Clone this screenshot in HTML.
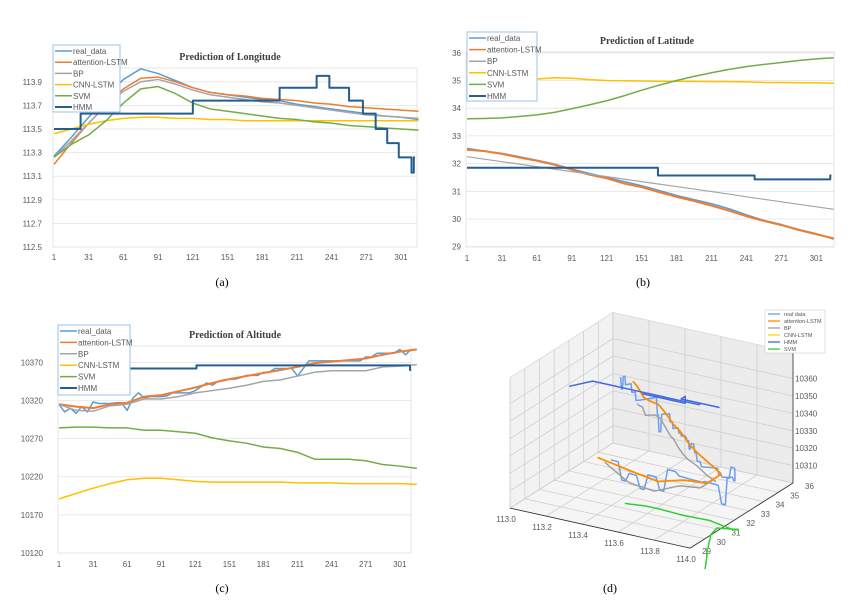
<!DOCTYPE html>
<html><head><meta charset="utf-8">
<style>
html,body{margin:0;padding:0;background:#fff;width:857px;height:607px;overflow:hidden;}
svg{display:block;font-family:"Liberation Sans",sans-serif;}
.tick{font-size:8px;fill:#595959;}
.title{font-family:"Liberation Serif",serif;font-weight:bold;font-size:10px;fill:#404040;}
.leg{font-size:8px;fill:#595959;}
.cap{font-family:"Liberation Serif",serif;font-size:12px;fill:#000;}
</style></head>
<body>
<svg id="fig" width="857" height="607" viewBox="0 0 857 607" overflow="hidden">
</svg>
<script>
// ---------- data ----------
const xs15 = [1,16,31,46,61,76,91,106,121,136,151,166,181,196,211,226,241,256,271,286,301,316];
// (a) Longitude
const lonReal = [113.27,113.43,113.6,113.77,113.92,114.01,113.97,113.91,113.85,113.81,113.79,113.77,113.75,113.74,113.71,113.69,113.67,113.65,113.63,113.61,113.6,113.58];
const lonAtt  = [113.2,113.38,113.55,113.70,113.84,113.93,113.94,113.9,113.85,113.81,113.79,113.78,113.76,113.75,113.74,113.72,113.71,113.69,113.68,113.67,113.66,113.65];
const lonBP   = [113.26,113.4,113.55,113.7,113.82,113.9,113.92,113.88,113.83,113.79,113.77,113.75,113.73,113.72,113.70,113.68,113.66,113.64,113.62,113.61,113.6,113.59];
const lonCNN  = [113.46,113.5,113.54,113.57,113.59,113.6,113.6,113.59,113.59,113.58,113.58,113.57,113.57,113.57,113.57,113.57,113.57,113.57,113.57,113.57,113.57,113.57];
const lonSVM  = [113.26,113.37,113.45,113.57,113.72,113.84,113.86,113.8,113.72,113.67,113.65,113.63,113.61,113.59,113.58,113.56,113.55,113.53,113.52,113.51,113.5,113.49];
const lonHMMx = [1,24,121,196,228,239,256,268,279,289,299,310,312,313];
const lonHMMy = [113.5,113.63,113.74,113.85,113.95,113.85,113.74,113.63,113.5,113.38,113.26,113.13,113.26,113.26];
const lonTicks = [112.5,112.7,112.9,113.1,113.3,113.5,113.7,113.9];
// (b) Latitude
const latReal = [32.55,32.45,32.37,32.25,32.12,31.98,31.8,31.65,31.5,31.35,31.2,31.03,30.85,30.7,30.55,30.37,30.15,29.95,29.8,29.62,29.47,29.27];
const latAtt  = [32.5,32.45,32.35,32.22,32.1,31.96,31.78,31.6,31.47,31.28,31.15,30.97,30.8,30.65,30.48,30.3,30.1,29.93,29.78,29.6,29.45,29.3];
const latBP   = [32.25,32.16,32.07,31.98,31.89,31.8,31.71,31.62,31.53,31.44,31.35,31.26,31.17,31.08,30.99,30.9,30.8,30.71,30.62,30.53,30.44,30.35];
const latCNN  = [34.4,34.6,34.78,34.93,35.05,35.1,35.08,35.03,35.0,34.99,34.98,34.97,34.97,34.97,34.96,34.96,34.95,34.93,34.93,34.92,34.92,34.9];
const latSVM  = [33.62,33.63,33.65,33.7,33.76,33.85,33.98,34.12,34.27,34.45,34.65,34.83,35.0,35.15,35.28,35.4,35.5,35.58,35.65,35.72,35.78,35.82];
const latHMMx = [1,165,248,313,314];
const latHMMy = [31.85,31.57,31.43,31.57,31.57];
const latTicks = [29,30,31,32,33,34,35,36];
// (c) Altitude
const xs10 = [1,6,11,16,21,26,31,36,41,46,51,56,61,66,71,76,81,86,91,96,101,106,111,116,121,126,131,136,141,146,151,156,161,166,171,176,181,186,191,196,201,206,211,216,221,226,231,236,241,246,251,256,261,266,271,276,281,286,291,296,301,306,311];
const altReal = [10315,10305,10310,10303,10312,10305,10318,10316,10316,10316,10317,10317,10307,10323,10330,10323,10325,10325,10325,10326,10330,10330,10330,10330,10333,10338,10343,10340,10345,10347,10348,10348,10350,10353,10353,10353,10357,10357,10362,10362,10362,10362,10352,10362,10372,10372,10372,10372,10372,10372,10372,10372,10372,10372,10377,10377,10382,10382,10382,10382,10387,10380,10387];
const altAtt  = [10315,10312,10310,10315,10317,10325,10327,10332,10337,10343,10348,10352,10356,10360,10364,10369,10371,10373,10375,10380,10384,10387];
const altBP   = [10315,10307,10306,10313,10315,10322,10322,10325,10330,10333,10336,10340,10345,10347,10352,10357,10359,10359,10359,10364,10365,10367];
const altCNN  = [10191,10198,10205,10211,10216,10218,10218,10216,10214,10213,10213,10213,10213,10213,10212,10212,10212,10211,10211,10211,10211,10210];
const altSVM  = [10284,10285,10285,10284,10284,10281,10281,10279,10277,10271,10267,10264,10259,10257,10252,10243,10243,10243,10241,10236,10234,10231];
const altHMMx = [1,122,310,311];
const altHMMy = [10362,10366,10360,10360];
const altTicks = [10120,10170,10220,10270,10320,10370];
const xTicks = [1,31,61,91,121,151,181,211,241,271,301];
const seriesNames = ["real_data","attention-LSTM","BP","CNN-LSTM","SVM","HMM"];
</script>
<script>
const NS = "http://www.w3.org/2000/svg";
const svg = document.getElementById("fig");
const COL = {real:"#5b9bd5",att:"#ed7d31",bp:"#a5a5a5",cnn:"#ffc000",svm:"#70ad47",hmm:"#255e91"};
const LEGCOL = [COL.real,COL.att,COL.bp,COL.cnn,COL.svm,COL.hmm];
function mk(tag, attrs, parent){ const e=document.createElementNS(NS,tag); for(const k in attrs) e.setAttribute(k,attrs[k]); (parent||svg).appendChild(e); return e; }
function valAt(xa, ya, x){
  if(x<=xa[0]) return ya[0];
  for(let i=1;i<xa.length;i++){ if(x<=xa[i]){ const t=(x-xa[i-1])/(xa[i]-xa[i-1]); return ya[i-1]+t*(ya[i]-ya[i-1]); } }
  return ya[ya.length-1];
}
function stepAt(xa, ya, x){ let v=ya[0]; for(let i=0;i<xa.length;i++){ if(x>=xa[i]) v=ya[i]; } return v; }

function chart(cfg){
  const g = mk("g",{});
  
  
  const sx = x => cfg.x0 + (x-1)*cfg.kx;
  const sy = v => cfg.y0 - (v-cfg.vmin)*cfg.ky;
  const fr = mk("rect",{x:cfg.fx,y:cfg.fy,width:cfg.fw,height:cfg.fh,fill:"#fff",stroke:"#e6e6e6","stroke-width":1},g);
  
  
  cfg.yticks.forEach(v=>{
    const y=sy(v);
    const gl = mk("line",{x1:cfg.fx,x2:cfg.fx+cfg.fw,y1:y,y2:y,stroke:"#e3e3e3","stroke-width":0.8},g);
    
    
    const t = mk("text",{x:cfg.ylx,y:y+3,"text-anchor":"end",class:"tick"},g);
    t.textContent = v.toFixed(cfg.dec);
    
    
  });
  xTicks.forEach(v=>{
    const t = mk("text",{x:sx(v),y:cfg.xly,"text-anchor":"middle",class:"tick"},g);
    t.textContent = v;
    
    
  });
  const tt = mk("text",{x:cfg.tx,y:cfg.ty,"text-anchor":"middle",class:"title"},g);
  tt.textContent = cfg.title;
  
  
  cfg.series.forEach(s=>{
    let pts=[];
    if(s.step){
      for(let i=0;i<s.xs.length;i++){
        if(i>0) pts.push(sx(s.xs[i])+","+sy(s.ys[i-1]));
        pts.push(sx(s.xs[i])+","+sy(s.ys[i]));
      }
    } else {
      pts = s.xs.map((x,i)=>sx(x)+","+sy(s.ys[i]));
    }
    const p = mk("polyline",{points:pts.join(" "),fill:"none",stroke:s.c,"stroke-width":s.w||1.5,"stroke-linejoin":"round"},g);
    
    
  });
  const lg = mk("g",{},g);
  
  
  mk("rect",{x:cfg.lx,y:cfg.ly,width:cfg.lw,height:cfg.lh,fill:"#fff",stroke:"#9dc3e6","stroke-width":1},lg);
  seriesNames.forEach((n,i)=>{
    const y = cfg.ly+6+i*cfg.lstep;
    const ln = mk("line",{x1:cfg.lx+2,x2:cfg.lx+19,y1:y,y2:y,stroke:LEGCOL[i],"stroke-width":i==5?2:1.5},lg);
    
    
    const t = mk("text",{x:cfg.lx+20,y:y+3,class:"leg"},lg);
    t.textContent=n;
    
    
  });
}

chart({name:"longitude-chart",title:"Prediction of Longitude",x0:54,kx:1.157,y0:247,vmin:112.5,ky:118,
  fx:53,fy:68,fw:364,fh:179,ylx:42,xly:260,dec:1,yticks:lonTicks,tx:230,ty:60,
  lx:53,ly:45,lw:67,lh:67,lstep:11.2,
  series:[
    {n:"real",xs:xs15,ys:lonReal,c:COL.real},
    {n:"attention",xs:xs15,ys:lonAtt,c:COL.att},
    {n:"bp",xs:xs15,ys:lonBP,c:COL.bp},
    {n:"cnn",xs:xs15,ys:lonCNN,c:COL.cnn},
    {n:"svm",xs:xs15,ys:lonSVM,c:COL.svm},
    {n:"hmm",xs:lonHMMx,ys:lonHMMy,c:COL.hmm,step:true,w:2}]});

chart({name:"latitude-chart",title:"Prediction of Latitude",x0:467,kx:1.1643,y0:246.7,vmin:29,ky:27.7,
  fx:466,fy:52,fw:368,fh:195,ylx:461,xly:261,dec:0,yticks:latTicks,tx:647,ty:44,
  lx:467,ly:32,lw:70,lh:69,lstep:11.6,
  series:[
    {n:"real",xs:xs15,ys:latReal,c:COL.real},
    {n:"attention",xs:xs15,ys:latAtt,c:COL.att,w:2},
    {n:"bp",xs:xs15,ys:latBP,c:COL.bp,w:1.2},
    {n:"cnn",xs:xs15,ys:latCNN,c:COL.cnn},
    {n:"svm",xs:xs15,ys:latSVM,c:COL.svm},
    {n:"hmm",xs:latHMMx,ys:latHMMy,c:COL.hmm,step:true,w:2}]});

chart({name:"altitude-chart",title:"Prediction of Altitude",x0:59,kx:1.136,y0:553,vmin:10120,ky:0.7626,
  fx:58,fy:346,fw:353,fh:207,ylx:43,xly:567,dec:0,yticks:altTicks,tx:235,ty:338,
  lx:58,ly:325,lw:72,lh:70,lstep:11.4,
  series:[
    {n:"real",xs:xs10,ys:altReal,c:COL.real},
    {n:"attention",xs:xs15,ys:altAtt,c:COL.att,w:2},
    {n:"bp",xs:xs15,ys:altBP,c:COL.bp},
    {n:"cnn",xs:xs15,ys:altCNN,c:COL.cnn},
    {n:"svm",xs:xs15,ys:altSVM,c:COL.svm},
    {n:"hmm",xs:altHMMx,ys:altHMMy,c:COL.hmm,step:true,w:2}]});

// ---------- (d) 3D trajectory ----------
(function(){
  const g = mk("g",{});
  
  
  const P = (lon,lat,alt)=>[793+(lon-114)*180+(lat-36)*14.7, 483+(lon-114)*40-(lat-36)*9.3-(alt-10300)*1.74];
  const pt = a=>a[0].toFixed(1)+","+a[1].toFixed(1);
  const TOP=10375, FL=10300;
  mk("polygon",{points:[P(113,29,FL),P(113,36,FL),P(113,36,TOP),P(113,29,TOP)].map(pt).join(" "),fill:"#f2f2f2",stroke:"#ddd"},g);
  mk("polygon",{points:[P(113,36,FL),P(114,36,FL),P(114,36,TOP),P(113,36,TOP)].map(pt).join(" "),fill:"#ececec",stroke:"#ddd"},g);
  mk("polygon",{points:[P(113,29,FL),P(114,29,FL),P(114,36,FL),P(113,36,FL)].map(pt).join(" "),fill:"#f5f5f5",stroke:"#ddd"},g);
  const grid=(a,b)=>mk("line",{x1:a[0],y1:a[1],x2:b[0],y2:b[1],stroke:"#d0d0d0","stroke-width":0.8},g);
  const lonT=[113.0,113.2,113.4,113.6,113.8,114.0], latT=[29,30,31,32,33,34,35,36], altT=[10310,10320,10330,10340,10350,10360];
  lonT.forEach(v=>{grid(P(v,29,FL),P(v,36,FL));grid(P(v,36,FL),P(v,36,TOP));});
  latT.forEach(v=>{grid(P(113,v,FL),P(114,v,FL));grid(P(113,v,FL),P(113,v,TOP));});
  altT.forEach(v=>{grid(P(113,29,v),P(113,36,v));grid(P(113,36,v),P(114,36,v));});
  mk("line",{x1:P(113,29,FL)[0],y1:P(113,29,FL)[1],x2:P(114,29,FL)[0],y2:P(114,29,FL)[1],stroke:"#333","stroke-width":0.8},g);
  mk("line",{x1:P(114,29,FL)[0],y1:P(114,29,FL)[1],x2:P(114,36,FL)[0],y2:P(114,36,FL)[1],stroke:"#333","stroke-width":0.8},g);
  mk("line",{x1:P(114,36,FL)[0],y1:P(114,36,FL)[1],x2:P(114,36,TOP)[0],y2:P(114,36,TOP)[1],stroke:"#333","stroke-width":0.8},g);
  lonT.forEach(v=>{const p=P(v,29,FL);const t=mk("text",{x:p[0]-4,y:p[1]+14,"text-anchor":"middle",class:"tick","font-size":"8"},g);t.textContent=v.toFixed(1);
    
    });
  latT.forEach(v=>{const p=P(114,v,FL);const t=mk("text",{x:p[0]+12,y:p[1]+6,class:"tick"},g);t.textContent=v;
    
    });
  altT.forEach(v=>{const p=P(114,36,v);const t=mk("text",{x:p[0]+2,y:p[1]+3,class:"tick"},g);t.textContent=v;
    
    });
  const C3 = {real:"#6d9eeb",att:"#ff8c00",bp:"#a0a0a0",cnn:"#ffd700",hmm:"#4169e1",svm:"#32cd32"};
  function line3(name, fLon, fLat, fAlt, c, w){
    const pts=[];
    for(let x=1;x<=311;x+=2){
      const q=P(fLon(x),fLat(x),fAlt(x));
      if(q[1]<=570 && q[0]>=480) pts.push(pt(q)); else if(pts.length) break;
    }
    if(!pts.length) return;
    const p = mk("polyline",{points:pts.join(" "),fill:"none",stroke:c,"stroke-width":w||1.5,"stroke-linejoin":"round"},g);
    
    
  }
  line3("series-3d-real",x=>valAt(xs15,lonReal,x),x=>valAt(xs15,latReal,x),x=>stepAt(xs10,altReal,x),C3.real,1.5);
  line3("series-3d-bp",x=>valAt(xs15,lonBP,x),x=>valAt(xs15,latBP,x),x=>valAt(xs15,altBP,x),C3.bp,1.5);
  line3("series-3d-attention",x=>valAt(xs15,lonAtt,x),x=>valAt(xs15,latAtt,x),x=>valAt(xs15,altAtt,x),C3.att,1.8);
  line3("series-3d-cnn",x=>valAt(xs15,lonCNN,x),x=>valAt(xs15,latCNN,x),x=>valAt(xs15,altCNN,x),C3.cnn,1.5);
  line3("series-3d-hmm",x=>stepAt(lonHMMx,lonHMMy,x),x=>stepAt(latHMMx,latHMMy,x),x=>stepAt(altHMMx,altHMMy,x),C3.hmm,1.5);
  line3("series-3d-svm",x=>valAt(xs15,lonSVM,x),x=>valAt(xs15,latSVM,x),x=>valAt(xs15,altSVM,x),C3.svm,1.5);
  const lg = mk("g",{},g);
  
  
  mk("rect",{x:765,y:310,width:60,height:43,fill:"#fff",stroke:"#ccc","stroke-width":0.6},lg);
  const n3=["real data","attention-LSTM","BP","CNN-LSTM","HMM","SVM"], c3=[C3.real,C3.att,C3.bp,C3.cnn,C3.hmm,C3.svm];
  n3.forEach((n,i)=>{const y=314+i*7;
    mk("line",{x1:768,x2:780,y1:y,y2:y,stroke:c3[i],"stroke-width":1.3},lg);
    const t=mk("text",{x:784,y:y+2,"font-size":"5.5",fill:"#555"},lg);t.textContent=n;
    
    });
})();

[["(a)",222,286],["(b)",643,286],["(c)",222,592],["(d)",610,592]].forEach(c=>{
  const t=mk("text",{x:c[1],y:c[2],"text-anchor":"middle",class:"cap"});
  t.textContent=c[0];
  
  
});
</script>
</body></html>
